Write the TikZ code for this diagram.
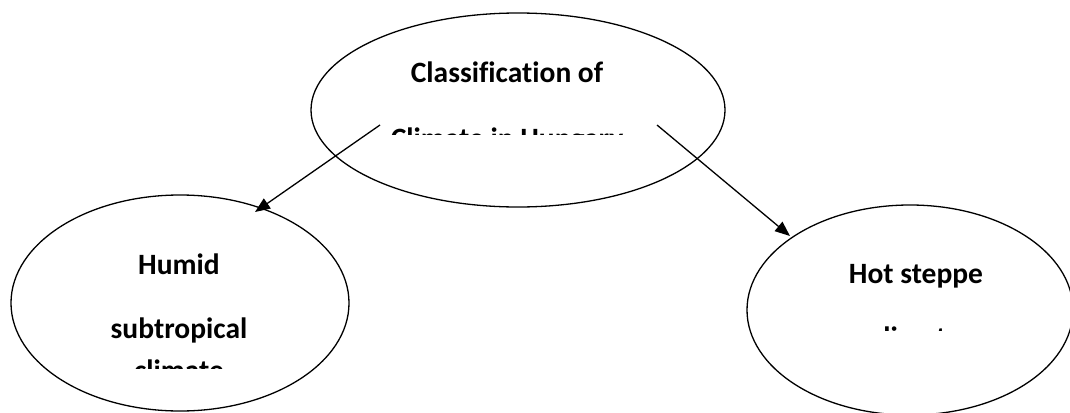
\documentclass[tikz,border=0pt]{standalone}
\usepackage{fontspec}
\setmainfont[Ligatures=NoCommon]{Carlito}
\usetikzlibrary{shapes.geometric,arrows.meta}
\tikzset{
  bubble/.style={draw=black,line width=1.3pt,ellipse,inner sep=0pt},
  lbl/.style={anchor=base,inner sep=0pt,font=\bfseries\fontsize{29.5}{29.5}\selectfont},
  link/.style={draw=black,line width=1.3pt,-{Triangle[length=15pt,width=12pt]}}
}
\begin{document}
\begin{tikzpicture}[x=1pt,y=-1pt]
\clip (0,0) rectangle (1070,412);
\useasboundingbox (0,0) rectangle (1070,412);
\fill[white] (0,0) rectangle (1070,412);
% ellipses
\node[bubble,minimum width=414pt,minimum height=194pt] (top) at (518,110) {};
\node[bubble,minimum width=338pt,minimum height=216pt] (hum) at (180,303) {};
\node[bubble,minimum width=326pt,minimum height=210pt] (hot) at (910,310) {};
% texts (clipped as in the reference)
\begin{scope}
\clip (300,20) rectangle (730,134);
\node[lbl] (t1) at (507,82) {Classification of};
\node[lbl] (t2) at (507,148) {Climate in Hungary};
\end{scope}
\begin{scope}
\clip (20,200) rectangle (340,368);
\node[lbl] (h1) at (179,274) {Humid};
\node[lbl] (h2) at (179,338) {subtropical};
\node[lbl] (h3) at (179,380) {climate};
\end{scope}
\begin{scope}
\clip (760,220) rectangle (1070,330);
\node[lbl] (s1) at (916,283) {Hot steppe};
\node[lbl] (s2) at (916,347) {climate};
\end{scope}
% connectors
\coordinate (a1) at (380,125);
\coordinate (b1) at (255,212);
\coordinate (a2) at (657,125);
\coordinate (b2) at (790,236);
\draw[link] (a1) -- (b1);
\draw[link] (a2) -- (b2);
\end{tikzpicture}
\end{document}
